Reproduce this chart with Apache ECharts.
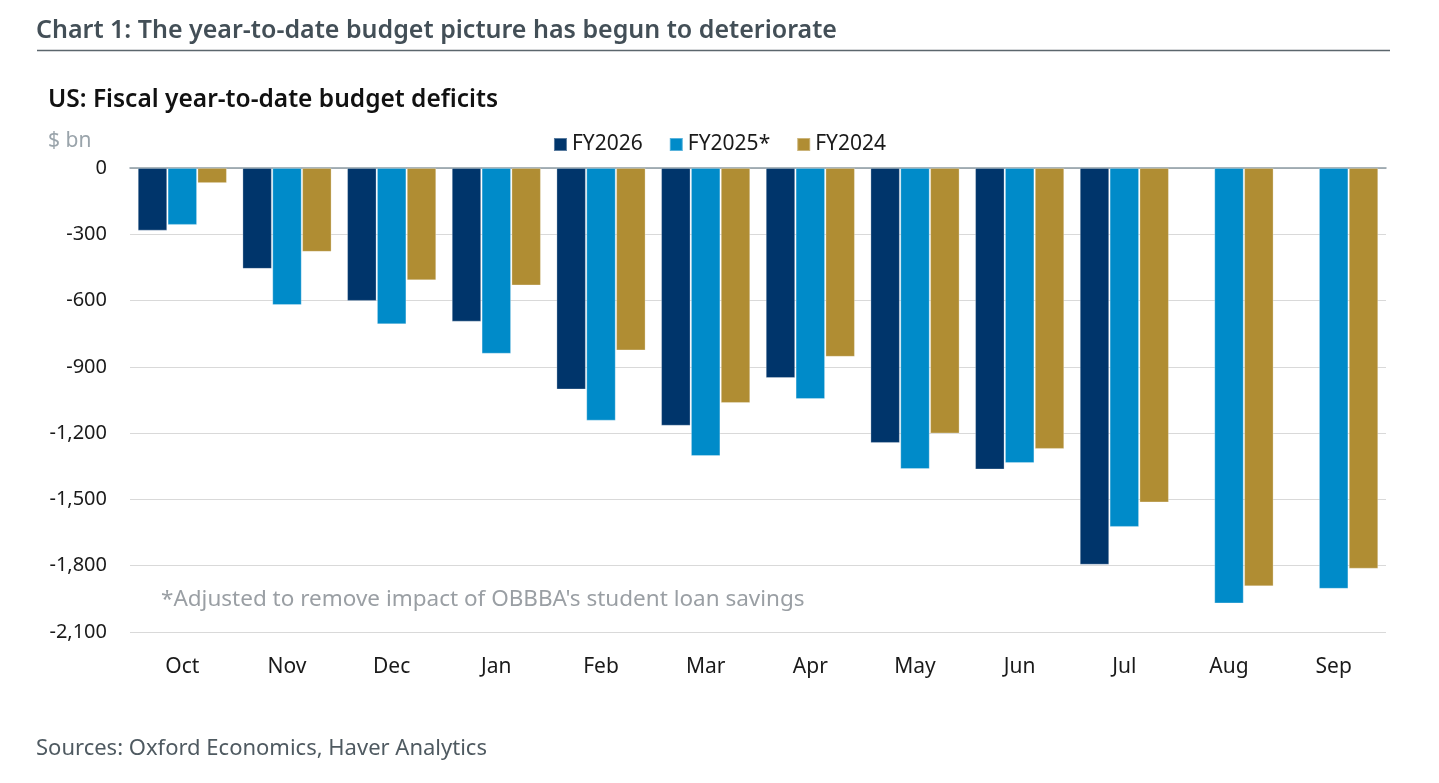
<!DOCTYPE html>
<html>
<head>
<meta charset="utf-8">
<script src="https://cdn.jsdelivr.net/npm/echarts@6/dist/echarts.min.js"></script>
<style>
  html, body { margin: 0; padding: 0; background: #ffffff; }
  #chart { width: 1439px; height: 783px; }
</style>
</head>
<body>
<div id="chart"></div>
<script>
const categories = ['Oct', 'Nov', 'Dec', 'Jan', 'Feb', 'Mar', 'Apr', 'May', 'Jun', 'Jul', 'Aug', 'Sep'];
const fy2026 = [-283, -456, -601, -695, -1002, -1166, -950, -1244, -1364, -1795, null, null];
const fy2025 = [-257, -620, -707, -840, -1143, -1303, -1045, -1362, -1335, -1624, -1970, -1904];
const fy2024 = [-68, -379, -508, -531, -825, -1063, -854, -1201, -1271, -1513, -1893, -1813];
const seriesNames = ['FY2026', 'FY2025*', 'FY2024'];
const yTicks = { min: -2100, max: 0, interval: 300 };

const FONT = '"Noto Sans", "Open Sans", sans-serif';
const chart = echarts.init(document.getElementById('chart'));

function label(text, x, y, font, fill) {
  return { type: 'text', x: x, y: y,
    style: { text: text, fill: fill, font: font, verticalAlign: 'middle', align: 'left' } };
}

const option = {
  backgroundColor: '#ffffff',
  animation: false,
  textStyle: { fontFamily: FONT },
  color: ['#00356b', '#008bc9', '#b08d33'],
  graphic: [
    label('Chart 1: The year-to-date budget picture has begun to deteriorate', 36, 31, '600 25px ' + FONT, '#434f57'),
    { type: 'line', shape: { x1: 37, y1: 50.5, x2: 1390, y2: 50.5 },
      style: { stroke: '#5b666d', lineWidth: 1.5 } },
    label('US: Fiscal year-to-date budget deficits', 48, 100, '600 24.5px ' + FONT, '#111111'),
    label('$ bn', 48, 141, '21px ' + FONT, '#9aa4ab'),
    label("*Adjusted to remove impact of OBBBA's student loan savings", 161, 600, '22.5px ' + FONT, '#9a9fa4'),
    label('Sources: Oxford Economics, Haver Analytics', 36, 749, '22px ' + FONT, '#4f5a61')
  ],
  legend: {
    data: seriesNames,
    left: 'center',
    top: 129,
    itemWidth: 13,
    itemHeight: 13,
    itemGap: 26,
    icon: 'rect',
    textStyle: { fontSize: 21, color: '#1a1a1a', fontFamily: FONT }
  },
  grid: { left: 130, right: 53, top: 168, bottom: 151 },
  xAxis: [
    {
      type: 'category',
      data: categories,
      position: 'bottom',
      axisLine: { show: false },
      axisTick: { show: false },
      axisLabel: { fontSize: 21, color: '#1a1a1a', margin: 25, fontFamily: FONT }
    },
    {
      type: 'category',
      data: categories,
      position: 'top',
      axisLine: { show: true, lineStyle: { color: '#8c9aa3', width: 1.5 } },
      axisTick: { show: false },
      axisLabel: { show: false }
    }
  ],
  yAxis: {
    type: 'value',
    min: yTicks.min,
    max: yTicks.max,
    interval: yTicks.interval,
    axisLine: { show: false },
    axisTick: { show: false },
    splitLine: { lineStyle: { color: '#d9d9d9', width: 1.2 } },
    axisLabel: {
      fontSize: 20, color: '#1a1a1a', margin: 23, fontFamily: FONT,
      formatter: v => v.toLocaleString('en-US')
    }
  },
  series: [
    { name: seriesNames[0], type: 'bar', data: fy2026, xAxisIndex: 0,
      barCategoryGap: '15%', barGap: '2%',
      itemStyle: { borderColor: 'rgba(255,255,255,0.35)', borderWidth: 0.8 } },
    { name: seriesNames[1], type: 'bar', data: fy2025, xAxisIndex: 0,
      barCategoryGap: '15%', barGap: '2%',
      itemStyle: { borderColor: 'rgba(255,255,255,0.35)', borderWidth: 0.8 } },
    { name: seriesNames[2], type: 'bar', data: fy2024, xAxisIndex: 0,
      barCategoryGap: '15%', barGap: '2%',
      itemStyle: { borderColor: 'rgba(255,255,255,0.35)', borderWidth: 0.8 } }
  ]
};
chart.setOption(option);
</script>
</body>
</html>
